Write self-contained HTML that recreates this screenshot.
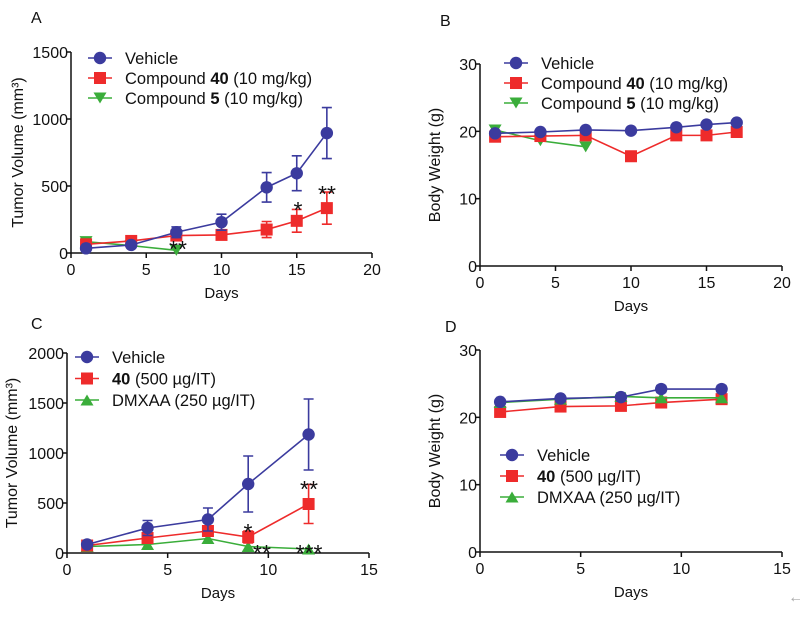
<!DOCTYPE html>
<html><head><meta charset="utf-8"><style>
body{margin:0;background:#fff}
svg text{font-family:"Liberation Sans",sans-serif;fill:#111}
</style></head><body>
<svg id="s" width="800" height="612" xmlns="http://www.w3.org/2000/svg"></svg>
<script>
const S=document.getElementById('s');let h='';
const B='#3b3b9e',R='#ee2b2b',G='#3aad3a';
function mk(t,x,y,c){
 if(t=='o')return `<circle cx="${x}" cy="${y}" r="6.2" fill="${c}"/>`;
 if(t=='s')return `<rect x="${x-6}" y="${y-6}" width="12" height="12" fill="${c}"/>`;
 if(t=='v')return `<polygon points="${x-6.5},${y-5.5} ${x+6.5},${y-5.5} ${x},${y+5.5}" fill="${c}"/>`;
 return `<polygon points="${x-6.5},${y+5.5} ${x+6.5},${y+5.5} ${x},${y-5.5}" fill="${c}"/>`;}
function panel(o){
 const X=d=>o.x0+d*(o.x1-o.x0)/o.xmax,Y=v=>o.y0-v*(o.y0-o.y1)/o.ymax;
 h+=`<path d="M${o.x0},${o.y1}V${o.y0}H${o.x1}" stroke="#111" stroke-width="1.5" fill="none"/>`;
 for(let v=0;v<=o.ymax;v+=o.ys){const y=Y(v);h+=`<line x1="${o.x0-5}" x2="${o.x0}" y1="${y}" y2="${y}" stroke="#111" stroke-width="1.5"/><text x="${o.x0-3}" y="${y+6}" font-size="16" text-anchor="end">${v}</text>`;}
 for(let d=0;d<=o.xmax;d+=5){const x=X(d);h+=`<line x1="${x}" x2="${x}" y1="${o.y0}" y2="${o.y0+5}" stroke="#111" stroke-width="1.5"/><text x="${x}" y="${o.y0+22}" font-size="16" text-anchor="middle">${d}</text>`;}
 h+=`<text x="${(o.x0+o.x1)/2}" y="${o.y0+45}" font-size="15" text-anchor="middle">Days</text>`;
 const cy=(o.y0+o.y1)/2;h+=`<text transform="translate(${o.x0-o.yo},${cy}) rotate(-90)" font-size="16" text-anchor="middle">${o.yl}</text>`;
 h+=`<text x="${o.lx}" y="${o.ly}" font-size="16">${o.L}</text>`;
 o.ser.forEach(s=>{const pts=s.d.map(p=>X(p[0])+','+Y(p[1])).join(' ');
  h+=`<polyline points="${pts}" fill="none" stroke="${s.c}" stroke-width="1.6"/>`;
  s.d.forEach(p=>{if(p[2]){const x=X(p[0]);h+=`<path d="M${x},${Y(p[1]-p[2])}V${Y(p[1]+p[2])}M${x-5},${Y(p[1]-p[2])}h10M${x-5},${Y(p[1]+p[2])}h10" stroke="${s.c}" stroke-width="1.6"/>`;}
   h+=mk(s.m,X(p[0]),Y(p[1]),s.c);});});
 o.leg.forEach((l,i)=>{const y=o.gy+i*o.gd;h+=`<line x1="${o.gx-12}" x2="${o.gx+12}" y1="${y}" y2="${y}" stroke="${l[1]}" stroke-width="1.6"/>`+mk(l[2],o.gx,y,l[1])+`<text x="${o.gx+25}" y="${y+6}" font-size="16.5">${l[0]}</text>`;});
 (o.st||[]).forEach(s=>h+=`<text x="${s[0]}" y="${s[1]}" font-size="23" text-anchor="middle">${s[2]}</text>`);
}
const c40='Compound <tspan font-weight="bold">40</tspan> (10 mg/kg)',c5='Compound <tspan font-weight="bold">5</tspan> (10 mg/kg)';
panel({x0:71,x1:372,y0:253,y1:52,xmax:20,ymax:1500,ys:500,yo:48,yl:'Tumor Volume (mm³)',L:'A',lx:31,ly:23,gx:100,gy:58,gd:20,
 leg:[['Vehicle',B,'o'],[c40,R,'s'],[c5,G,'v']],
 ser:[{c:G,m:'v',d:[[1,85],[4,55],[7,20]]},{c:R,m:'s',d:[[1,65],[4,90],[7,130],[10,135,30],[13,175,60],[15,240,85],[17,335,120]]},
 {c:B,m:'o',d:[[1,35],[4,60],[7,155,40],[10,230,60],[13,490,110],[15,595,130],[17,895,190]]}],
 st:[[178,257,'**'],[298,218,'*'],[327,202,'**']]});
panel({x0:480,x1:782,y0:266,y1:64,xmax:20,ymax:30,ys:10,yo:40,yl:'Body Weight (g)',L:'B',lx:440,ly:26,gx:516,gy:63,gd:20,
 leg:[['Vehicle',B,'o'],[c40,R,'s'],[c5,G,'v']],
 ser:[{c:G,m:'v',d:[[1,20.2],[4,18.6],[7,17.7]]},{c:R,m:'s',d:[[1,19.2],[4,19.3],[7,19.4],[10,16.3],[13,19.4],[15,19.4],[17,19.9]]},
 {c:B,m:'o',d:[[1,19.7],[4,19.9],[7,20.2],[10,20.1],[13,20.6],[15,21],[17,21.3]]}]});
panel({x0:67,x1:369,y0:553,y1:353,xmax:15,ymax:2000,ys:500,yo:50,yl:'Tumor Volume (mm³)',L:'C',lx:31,ly:329,gx:87,gy:357,gd:21.5,
 leg:[['Vehicle',B,'o'],['<tspan font-weight="bold">40</tspan> (500 µg/IT)',R,'s'],['DMXAA (250 µg/IT)',G,'^']],
 ser:[{c:G,m:'^',d:[[1,65],[4,85],[7,145],[9,65],[12,40]]},{c:R,m:'s',d:[[1,75],[4,150,40],[7,220,50],[9,160,60],[12,490,195]]},
 {c:B,m:'o',d:[[1,85],[4,250,75],[7,335,115],[9,690,280],[12,1185,355]]}],
 st:[[248,540,'*'],[262,561,'**'],[309,497,'**'],[309,561,'***']]});
panel({x0:480,x1:782,y0:552,y1:350,xmax:15,ymax:30,ys:10,yo:40,yl:'Body Weight (g)',L:'D',lx:445,ly:332,gx:512,gy:455,gd:21,
 leg:[['Vehicle',B,'o'],['<tspan font-weight="bold">40</tspan> (500 µg/IT)',R,'s'],['DMXAA (250 µg/IT)',G,'^']],
 ser:[{c:R,m:'s',d:[[1,20.8],[4,21.6],[7,21.7],[9,22.2],[12,22.7]]},{c:G,m:'^',d:[[1,22.2],[4,22.7],[7,23.1,0.5],[9,22.9],[12,22.9]]},
 {c:B,m:'o',d:[[1,22.3],[4,22.8],[7,23],[9,24.2,0.5],[12,24.2,0.5]]}]});
h+=`<text x="788" y="602" font-size="16" style="fill:#aaa">←</text>`;
S.innerHTML=h;
</script>
</body></html>
